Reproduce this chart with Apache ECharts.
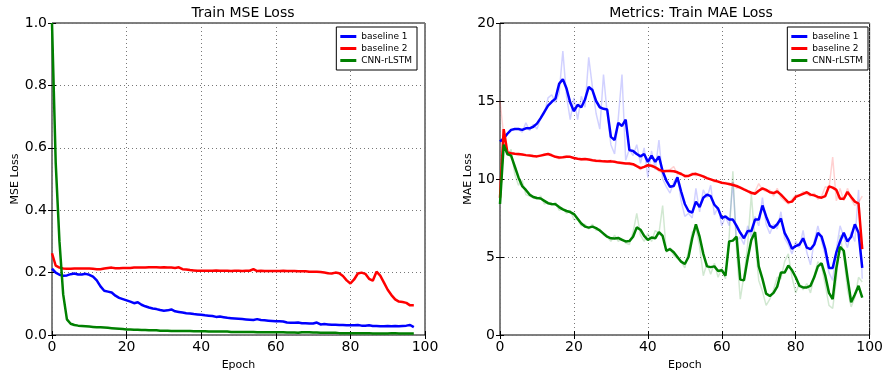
<!DOCTYPE html>
<html>
<head>
    <meta charset="UTF-8">
    <title>Train MSE / MAE Loss</title>
    <script src="https://cdn.jsdelivr.net/npm/echarts@6/dist/echarts.min.js"></script>
    <style>
        body { margin: 0; background: #fff; }
        #main { width: 886px; height: 377px; }
    </style>
</head>
<body>
<div id="main"></div>
<script>
    // 左图: Train MSE Loss (epoch 0..97)
    var mseBaseline1 = [0.213, 0.2, 0.193, 0.19, 0.191, 0.195, 0.197, 0.194, 0.194, 0.196,
        0.193, 0.187, 0.175, 0.156, 0.142, 0.139, 0.136, 0.126, 0.119, 0.115,
        0.111, 0.107, 0.102, 0.105, 0.097, 0.092, 0.088, 0.085, 0.083, 0.08,
        0.078, 0.079, 0.082, 0.076, 0.074, 0.072, 0.07, 0.069, 0.067, 0.066,
        0.065, 0.063, 0.062, 0.061, 0.058, 0.059, 0.057, 0.055, 0.054, 0.053,
        0.052, 0.051, 0.05, 0.049, 0.048, 0.051, 0.048, 0.047, 0.046, 0.045,
        0.044, 0.044, 0.043, 0.04, 0.039, 0.039, 0.04, 0.038, 0.038, 0.037,
        0.037, 0.04, 0.034, 0.035, 0.034, 0.033, 0.033, 0.032, 0.032, 0.031,
        0.031, 0.031, 0.032, 0.03, 0.03, 0.031, 0.029, 0.029, 0.028, 0.028,
        0.029, 0.028, 0.029, 0.028, 0.029, 0.03, 0.032, 0.025];
    var mseBaseline2 = [0.262, 0.222, 0.216, 0.213, 0.212, 0.212, 0.213, 0.213, 0.213, 0.213,
        0.213, 0.212, 0.211, 0.211, 0.213, 0.215, 0.216, 0.214, 0.214, 0.215,
        0.215, 0.215, 0.216, 0.216, 0.216, 0.216, 0.217, 0.217, 0.217, 0.216,
        0.217, 0.216, 0.216, 0.215, 0.217, 0.211, 0.21, 0.208, 0.207, 0.206,
        0.206, 0.206, 0.206, 0.206, 0.207, 0.206, 0.206, 0.206, 0.205, 0.206,
        0.206, 0.205, 0.206, 0.206, 0.211, 0.205, 0.206, 0.205, 0.205, 0.205,
        0.205, 0.205, 0.206, 0.205, 0.205, 0.205, 0.204, 0.204, 0.204, 0.203,
        0.203, 0.203, 0.202, 0.2, 0.198, 0.197, 0.2, 0.198, 0.189, 0.175,
        0.165, 0.178, 0.197, 0.2, 0.196, 0.18, 0.174, 0.203, 0.19, 0.168,
        0.145, 0.128, 0.114, 0.107, 0.106, 0.103, 0.095, 0.095];
    var mseCnnRlstm = [1.0, 0.55, 0.3, 0.13, 0.05, 0.036, 0.032, 0.03, 0.029, 0.028,
        0.027, 0.026, 0.025, 0.025, 0.024, 0.023, 0.022, 0.021, 0.02, 0.019,
        0.018, 0.018, 0.017, 0.017, 0.016, 0.016, 0.015, 0.015, 0.015, 0.014,
        0.014, 0.014, 0.013, 0.013, 0.013, 0.013, 0.013, 0.013, 0.012, 0.012,
        0.012, 0.012, 0.011, 0.011, 0.011, 0.011, 0.011, 0.011, 0.01, 0.01,
        0.01, 0.01, 0.01, 0.01, 0.01, 0.009, 0.009, 0.009, 0.009, 0.009,
        0.009, 0.009, 0.009, 0.008, 0.008, 0.008, 0.007, 0.009, 0.009, 0.009,
        0.008, 0.008, 0.007, 0.007, 0.007, 0.007, 0.007, 0.006, 0.006, 0.006,
        0.006, 0.006, 0.006, 0.006, 0.006, 0.006, 0.005, 0.005, 0.005, 0.005,
        0.005, 0.006, 0.006, 0.005, 0.005, 0.005, 0.005, 0.005];

    // 右图: Metrics: Train MAE Loss (epoch 0..98), 平滑曲线
    var maeBaseline1 = [12.4, 12.6, 12.9, 13.15, 13.2, 13.2, 13.15, 13.25, 13.25, 13.35,
        13.55, 13.9, 14.3, 14.7, 14.95, 15.15, 16.1, 16.4, 15.8, 14.9,
        14.35, 14.75, 14.6, 15.1, 15.9, 15.7, 15.0, 14.6, 14.5, 14.45,
        12.7, 12.5, 13.6, 13.4, 13.8, 11.85, 11.8, 11.6, 11.45, 11.6,
        11.1, 11.5, 11.1, 11.45, 10.5, 9.9, 9.5, 9.55, 10.1, 9.2,
        8.4, 7.95, 7.85, 8.55, 8.2, 8.8, 9.0, 8.9, 8.35, 8.1,
        7.5, 7.6, 7.4, 7.4, 7.0, 6.55, 6.2, 6.66, 6.66, 7.4,
        7.4, 8.3, 7.6, 7.0, 6.87, 7.1, 7.47, 6.55, 6.1, 5.53,
        5.7, 5.8, 6.2, 5.6, 5.5, 5.8, 6.55, 6.3, 5.5, 4.3,
        4.3, 5.3, 6.0, 6.55, 6.0, 6.3, 7.1, 6.55, 4.3];
    var maeBaseline2 = [8.8, 13.2, 11.7, 11.65, 11.62, 11.6, 11.57, 11.53, 11.5, 11.47,
        11.45, 11.5, 11.55, 11.6, 11.52, 11.42, 11.38, 11.4, 11.43, 11.42,
        11.35, 11.3, 11.26, 11.28, 11.25, 11.2, 11.17, 11.15, 11.13, 11.12,
        11.13, 11.1, 11.05, 11.03, 11.0, 10.99, 10.95, 10.82, 10.7, 10.78,
        10.88, 10.85, 10.75, 10.6, 10.5, 10.52, 10.52, 10.5, 10.43, 10.32,
        10.2, 10.2, 10.3, 10.33, 10.25, 10.17, 10.06, 9.98, 9.9, 9.83,
        9.76, 9.72, 9.68, 9.62, 9.55, 9.45, 9.33, 9.22, 9.12, 9.05,
        9.25, 9.4, 9.3, 9.15, 9.1, 9.2, 9.0, 8.75, 8.5, 8.55,
        8.85, 8.95, 9.05, 9.15, 9.0, 8.95, 8.85, 8.8, 8.9, 9.53,
        9.45, 9.3, 8.73, 8.73, 9.17, 8.85, 8.55, 8.43, 5.5];
    var maeCnnRlstm = [8.4, 12.2, 11.6, 11.5, 10.8, 10.1, 9.55, 9.3, 9.0, 8.85,
        8.78, 8.75, 8.6, 8.45, 8.4, 8.38, 8.2, 8.05, 7.95, 7.88,
        7.75, 7.45, 7.15, 6.95, 6.88, 6.95, 6.85, 6.7, 6.5, 6.3,
        6.2, 6.18, 6.22, 6.1, 6.0, 6.02, 6.3, 6.9, 6.75, 6.35,
        6.1, 6.25, 6.2, 6.6, 6.35, 5.4, 5.5, 5.3, 5.0, 4.7,
        4.55, 5.0, 6.2, 7.1, 6.3, 5.2, 4.4, 4.35, 4.4, 4.1,
        4.15, 3.8, 6.0, 6.05, 6.3, 3.55, 3.5, 4.9, 6.1, 6.6,
        4.4, 3.6, 2.65, 2.5, 2.7, 3.1, 4.0, 4.0, 4.45, 4.15,
        3.7, 3.15, 3.05, 3.05, 3.15, 3.7, 4.4, 4.6, 3.8, 2.7,
        2.3, 4.3, 5.65, 5.4, 3.7, 2.1, 2.6, 3.15, 2.4];

    // 右图原始值 (浅色)
    var maeBaseline1Raw = [12.4, 12.6, 12.9, 13.1, 13.2, 13.2, 13.0, 13.6, 13.1, 13.5,
        13.2, 13.9, 14.2, 15.2, 15.4, 14.9, 15.5, 18.2, 15.3, 13.8,
        15.2, 13.8, 15.3, 14.6, 17.8, 15.9, 14.2, 13.2, 16.7, 14.2,
        12.2, 11.6, 13.9, 16.7, 11.2, 11.9, 11.5, 12.2, 11.0, 12.0,
        10.1, 11.8, 10.6, 12.5, 10.0, 9.5, 9.1, 9.8, 10.2, 8.6,
        7.6, 7.8, 7.5, 9.4, 7.9, 9.3, 8.8, 9.6, 7.7, 8.2,
        7.0, 7.6, 7.0, 9.8, 6.0, 6.3, 5.8, 7.0, 6.3, 7.6,
        7.0, 8.8, 7.1, 6.5, 7.1, 6.8, 7.9, 6.2, 5.8, 5.2,
        6.0, 5.6, 6.7, 5.3, 4.5, 6.0, 7.0, 6.0, 5.1, 4.0,
        3.5, 5.5, 7.0, 6.3, 5.6, 6.6, 6.0, 9.3, 3.6];
    var maeBaseline2Raw = [15.0, 12.8, 11.6, 11.7, 11.6, 11.5, 11.6, 11.5, 11.5, 11.4,
        11.5, 11.5, 11.6, 11.6, 11.5, 11.4, 11.3, 11.4, 11.5, 11.4,
        11.3, 11.3, 11.2, 11.3, 11.2, 11.2, 11.1, 11.2, 11.1, 11.1,
        11.2, 11.1, 11.0, 11.0, 11.0, 10.9, 10.9, 10.8, 10.6, 10.8,
        10.9, 10.8, 10.7, 10.5, 10.4, 10.5, 10.6, 10.8, 10.3, 10.4,
        10.1, 10.2, 10.4, 10.2, 10.3, 10.1, 10.0, 10.0, 9.8, 9.9,
        9.7, 9.8, 9.6, 9.8, 9.4, 9.5, 9.3, 9.2, 9.0, 9.2,
        9.7, 9.3, 9.2, 9.3, 8.9, 9.4, 8.8, 8.6, 8.4, 8.7,
        9.0, 8.9, 9.2, 9.0, 8.9, 9.1, 8.7, 8.9, 9.5, 9.4,
        11.4, 8.6, 9.4, 8.6, 9.4, 8.7, 8.3, 8.5, 8.9];
    var maeCnnRlstmRaw = [8.4, 12.4, 11.5, 11.9, 10.3, 9.6, 9.9, 9.0, 8.9, 8.8,
        8.7, 8.9, 8.4, 8.5, 8.3, 8.5, 8.0, 8.1, 7.8, 8.0,
        7.4, 7.4, 7.0, 7.1, 6.8, 7.1, 6.7, 6.8, 6.4, 6.3,
        6.0, 6.4, 6.0, 6.2, 5.9, 5.8, 6.6, 7.8, 6.4, 6.0,
        6.5, 6.0, 6.7, 6.5, 8.3, 5.3, 5.6, 5.1, 4.9, 4.7,
        4.3, 5.4, 6.6, 6.8, 5.7, 3.8, 4.6, 3.9, 4.6, 3.7,
        4.3, 3.6, 6.3, 10.5, 5.4, 2.3, 3.8, 5.8, 9.0, 6.0,
        3.5, 2.8, 1.9, 2.3, 2.9, 3.7, 3.6, 4.7, 5.2, 3.7,
        2.7, 3.3, 2.9, 3.3, 2.7, 3.8, 4.7, 4.4, 3.2, 1.9,
        1.7, 3.6, 6.4, 5.0, 2.9, 1.8, 2.4, 3.7, 3.4];

    var seriesNames = ['baseline 1', 'baseline 2', 'CNN-rLSTM'];
    var seriesColors = ['#0000ff', '#ff0000', '#008000'];

    function toPairs(arr) {
        return arr.map(function (v, i) { return [i, v]; });
    }

    function lineSeries(name, color, data, gridIdx, faded) {
        return {
            name: name,
            type: 'line',
            xAxisIndex: gridIdx * 2,
            yAxisIndex: gridIdx * 2,
            data: toPairs(data),
            showSymbol: false,
            symbol: 'none',
            silent: true,
            z: faded ? 1 : 3,
            lineStyle: { color: color, width: faded ? 1.5 : 2.5, opacity: faded ? 0.18 : 1 },
            itemStyle: { color: color }
        };
    }

    var font = 'DejaVu Sans';
    var grids = [
        { left: 52, top: 23, width: 373, height: 312 },
        { left: 500, top: 23, width: 372, height: 312 }
    ];

    function xAxes(gi) {
        return [{
            type: 'value', gridIndex: gi, min: 0, max: 100, interval: 20,
            name: 'Epoch', nameLocation: 'middle', nameGap: 25,
            nameTextStyle: { fontSize: 11, color: '#000', fontFamily: font },
            axisLine: { show: false },
            axisTick: { inside: true, length: 4, lineStyle: { color: '#000' } },
            axisLabel: { fontSize: 14, color: '#000', margin: 5, fontFamily: font },
            splitLine: { show: true, lineStyle: { color: '#777', type: [1, 3], width: 1 } }
        }, {
            type: 'value', gridIndex: gi, min: 0, max: 100, interval: 20, position: 'top',
            axisLine: { show: false },
            axisTick: { inside: true, length: 4, lineStyle: { color: '#000' } },
            axisLabel: { show: false }, splitLine: { show: false }
        }];
    }

    function yAxes(gi, name, max, interval, gap, fmt) {
        return [{
            type: 'value', gridIndex: gi, min: 0, max: max, interval: interval,
            name: name, nameLocation: 'middle', nameGap: gap, nameRotate: 90,
            nameTextStyle: { fontSize: 11, color: '#000', fontFamily: font },
            axisLine: { show: false },
            axisTick: { inside: true, length: 4, lineStyle: { color: '#000' } },
            axisLabel: { fontSize: 14, color: '#000', margin: 5, fontFamily: font, formatter: fmt },
            splitLine: { show: true, lineStyle: { color: '#777', type: [1, 3], width: 1 } }
        }, {
            type: 'value', gridIndex: gi, min: 0, max: max, interval: interval, position: 'right',
            axisLine: { show: false },
            axisTick: { inside: true, length: 4, lineStyle: { color: '#000' } },
            axisLabel: { show: false }, splitLine: { show: false }
        }];
    }

    function legendAt(right) {
        return {
            data: seriesNames,
            orient: 'vertical',
            right: right,
            top: 27,
            padding: [4, 5, 4, 4],
            itemGap: 1,
            itemWidth: 16,
            itemHeight: 3,
            icon: 'rect',
            backgroundColor: '#fff',
            borderColor: '#000',
            borderWidth: 1,
            textStyle: { fontSize: 9, lineHeight: 11, color: '#000', fontFamily: font },
            selectedMode: false
        };
    }

    var series = [];
    var maeRaw = [maeBaseline1Raw, maeBaseline2Raw, maeCnnRlstmRaw];
    var maeSmooth = [maeBaseline1, maeBaseline2, maeCnnRlstm];
    var mseAll = [mseBaseline1, mseBaseline2, mseCnnRlstm];
    for (var k = 0; k < 3; k++) {
        series.push(lineSeries(seriesNames[k], seriesColors[k], mseAll[k], 0, false));
    }
    for (var k = 0; k < 3; k++) {
        series.push(lineSeries(seriesNames[k] + ' raw', seriesColors[k], maeRaw[k], 1, true));
    }
    for (var k = 0; k < 3; k++) {
        series.push(lineSeries(seriesNames[k], seriesColors[k], maeSmooth[k], 1, false));
    }

    var option = {
        animation: false,
        backgroundColor: '#fff',
        textStyle: { fontFamily: font },
        title: [
            { text: 'Train MSE Loss', left: 238, top: 1, textAlign: 'center',
              textStyle: { fontSize: 14, fontWeight: 'normal', color: '#000', fontFamily: font } },
            { text: 'Metrics: Train MAE Loss', left: 686, top: 1, textAlign: 'center',
              textStyle: { fontSize: 14, fontWeight: 'normal', color: '#000', fontFamily: font } }
        ],
        legend: [legendAt(469), legendAt(18)],
        grid: grids.map(function (g) {
            return Object.assign({ show: true, borderColor: '#000', borderWidth: 1, backgroundColor: 'transparent' }, g);
        }),
        xAxis: xAxes(0).concat(xAxes(1)),
        yAxis: yAxes(0, 'MSE Loss', 1, 0.2, 30, function (v) { return v.toFixed(1); })
            .concat(yAxes(1, 'MAE Loss', 20, 5, 26, function (v) { return String(v); })),
        series: series
    };

    var myChart = echarts.init(document.getElementById('main'), null, { renderer: 'canvas' });
    myChart.setOption(option);
</script>
</body>
</html>
